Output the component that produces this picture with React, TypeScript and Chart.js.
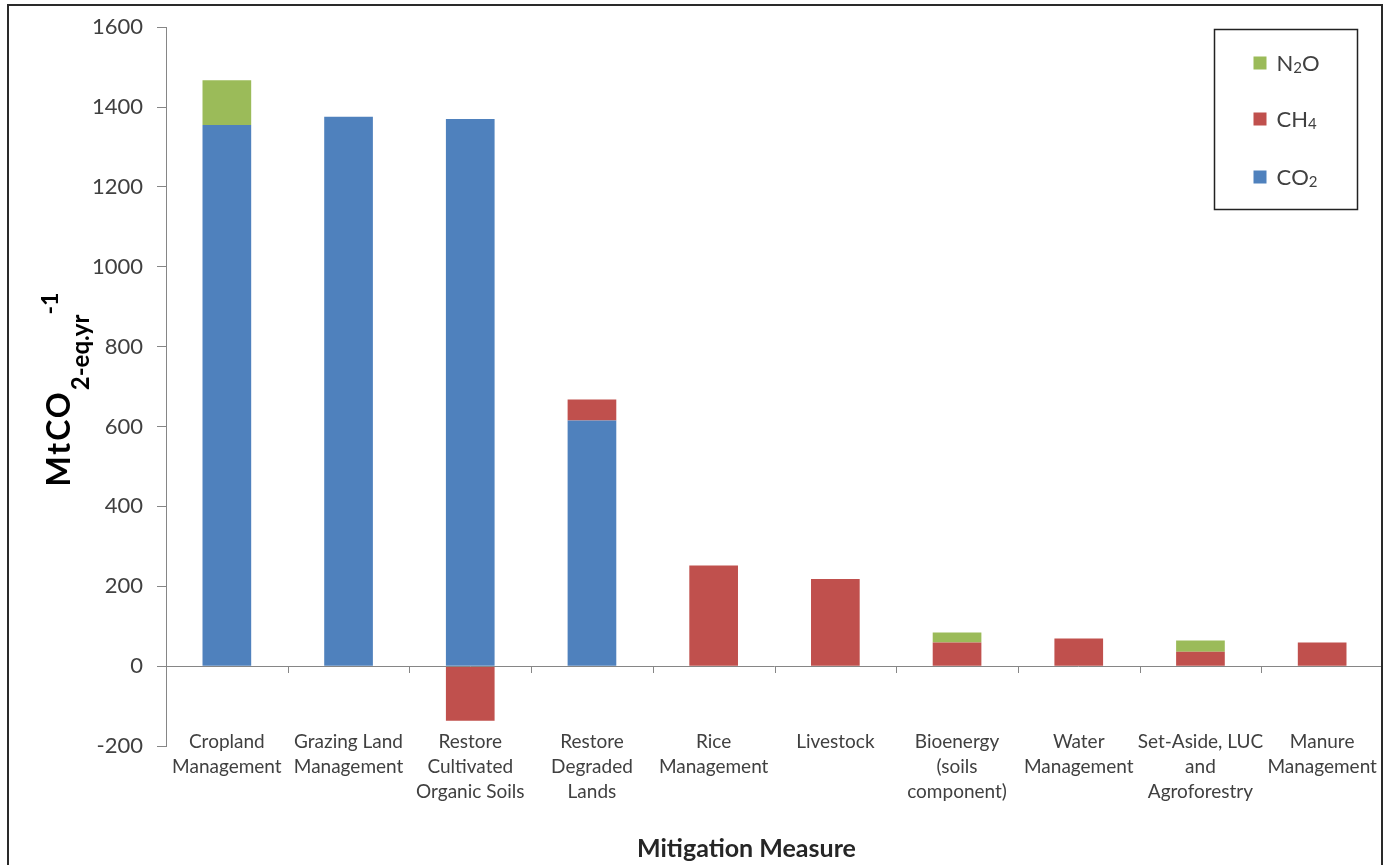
import React, { useEffect, useRef } from "react";
import { Chart, registerables } from "chart.js";

Chart.register(...registerables);

const categories: string[][] = [
  ["Cropland", "Management"],
  ["Grazing Land", "Management"],
  ["Restore", "Cultivated", "Organic Soils"],
  ["Restore", "Degraded", "Lands"],
  ["Rice", "Management"],
  ["Livestock"],
  ["Bioenergy", "(soils", "component)"],
  ["Water", "Management"],
  ["Set-Aside, LUC", "and", "Agroforestry"],
  ["Manure", "Management"],
];

const co2Values = [1355, 1376, 1370, 615, 0, 0, 0, 0, 0, 0];
const ch4Values = [0, 0, -137, 53, 252, 218, 59, 69, 36, 59];
const n2oValues = [112, 0, 0, 0, 0, 0, 25, 0, 28, 0];

const yMin = -200;
const yMax = 1600;
const yStep = 200;

const xTitle = "Mitigation Measure";

const FONT = "Lato, 'Open Sans', sans-serif";
const TEXT = "#404040";
const AXIS = "#868686";

// draw text where digits become subscripts
function drawChemLabel(ctx: CanvasRenderingContext2D, text: string, x: number, y: number, size: number) {
  let cx = x;
  for (const ch of text) {
    const isDigit = /[0-9]/.test(ch);
    ctx.font = `${isDigit ? Math.round(size * 0.7) : size}px ${FONT}`;
    ctx.fillText(ch, cx, isDigit ? y + size * 0.22 : y);
    cx += ctx.measureText(ch).width;
  }
}

const framePlugin = {
  id: "frame",
  beforeDraw(chart: any) {
    const { ctx, width, height } = chart;
    ctx.save();
    ctx.fillStyle = "#ffffff";
    ctx.fillRect(0, 0, width, height);
    ctx.restore();
  },
  afterDraw(chart: any) {
    const { ctx } = chart;
    ctx.save();
    ctx.strokeStyle = "#2a2a2a";
    ctx.lineWidth = 2;
    ctx.strokeRect(8, 5, 1374, 900);
    ctx.restore();
  },
};

const zeroTicksPlugin = {
  id: "zeroTicks",
  afterDatasetsDraw(chart: any) {
    const { ctx, chartArea } = chart;
    const y = Math.round(chart.scales.y.getPixelForValue(0));
    const n = categories.length;
    const w = (chartArea.right - chartArea.left) / n;
    ctx.save();
    ctx.strokeStyle = AXIS;
    ctx.lineWidth = 1;
    ctx.beginPath();
    ctx.moveTo(chartArea.left, y + 0.5);
    ctx.lineTo(chartArea.right, y + 0.5);
    for (let i = 1; i < n; i++) {
      const x = Math.round(chartArea.left + i * w) + 0.5;
      ctx.moveTo(x, y);
      ctx.lineTo(x, y + 7);
    }
    ctx.stroke();
    ctx.restore();
  },
};

const xLabelsPlugin = {
  id: "xLabels",
  afterDraw(chart: any) {
    const { ctx, chartArea } = chart;
    const xs = chart.scales.x;
    ctx.save();
    ctx.font = `19px ${FONT}`;
    ctx.fillStyle = TEXT;
    ctx.textAlign = "center";
    ctx.textBaseline = "middle";
    (chart.data.labels as string[][]).forEach((lines, i) => {
      const x = xs.getPixelForValue(i);
      lines.forEach((line, j) => {
        ctx.fillText(line, x, chartArea.bottom - 4 + j * 25);
      });
    });
    ctx.restore();
  },
};

const titlesPlugin = {
  id: "titles",
  afterDraw(chart: any) {
    const { ctx, chartArea } = chart;
    ctx.save();
    // y title (rotated, with sub/superscripts)
    const cy = (chartArea.top + chartArea.bottom) / 2 + 3;
    const segs = [
      { t: "MtCO", size: 32, base: 70, ls: 2 },
      { t: "2-eq.yr", size: 24, base: 89, ls: 0 },
      { t: "-1", size: 23, base: 58, ls: 0 },
    ];
    let total = 0;
    const widths: number[] = [];
    for (const s of segs) {
      ctx.font = `bold ${s.size}px ${FONT}`;
      (ctx as any).letterSpacing = `${s.ls}px`;
      const w = ctx.measureText(s.t).width;
      widths.push(w);
      total += w;
    }
    ctx.translate(0, cy);
    ctx.rotate(-Math.PI / 2);
    ctx.fillStyle = "#000000";
    ctx.textBaseline = "alphabetic";
    let lx = -total / 2;
    segs.forEach((s, i) => {
      ctx.font = `bold ${s.size}px ${FONT}`;
      (ctx as any).letterSpacing = `${s.ls}px`;
      ctx.fillText(s.t, lx, s.base);
      lx += widths[i];
    });
    ctx.restore();

    // x title
    ctx.save();
    ctx.font = `bold 25px ${FONT}`;
    ctx.fillStyle = "#262626";
    ctx.textAlign = "center";
    ctx.textBaseline = "middle";
    ctx.fillText(xTitle, (chartArea.left + chartArea.right) / 2 - 28, 849);
    ctx.restore();
  },
};

const legendPlugin = {
  id: "customLegend",
  afterDraw(chart: any) {
    const { ctx, chartArea } = chart;
    const boxW = 143;
    const boxH = 180;
    const left = Math.round(chartArea.right - 26 - boxW) + 0.5;
    const top = Math.round(chartArea.top + 2) + 0.5;
    ctx.save();
    ctx.fillStyle = "#ffffff";
    ctx.fillRect(left, top, boxW, boxH);
    ctx.strokeStyle = "#222222";
    ctx.lineWidth = 1.5;
    ctx.strokeRect(left, top, boxW, boxH);
    const items = [...chart.data.datasets].reverse();
    const rows = [33, 89, 147];
    items.forEach((ds: any, i: number) => {
      const cy = top + rows[i];
      ctx.fillStyle = ds.backgroundColor;
      ctx.fillRect(left + 39, cy - 6, 13, 13);
      ctx.fillStyle = TEXT;
      ctx.textBaseline = "middle";
      drawChemLabel(ctx, ds.label, left + 62, cy + 1, 22);
    });
    ctx.restore();
  },
};

export default function App() {
  const canvasRef = useRef<HTMLCanvasElement | null>(null);

  useEffect(() => {
    if (!canvasRef.current) return;
    const chart = new Chart(canvasRef.current, {
      type: "bar",
      data: {
        labels: categories,
        datasets: [
          { label: "CO2", data: co2Values, backgroundColor: "#4F81BD" },
          { label: "CH4", data: ch4Values, backgroundColor: "#C0504D" },
          { label: "N2O", data: n2oValues, backgroundColor: "#9BBB59" },
        ],
      },
      options: {
        responsive: false,
        animation: false,
        devicePixelRatio: 1,
        layout: { padding: { top: 26, right: 7, left: 0, bottom: 0 } },
        datasets: {
          bar: { barPercentage: 0.4, categoryPercentage: 1.0 },
        },
        plugins: {
          legend: { display: false },
          tooltip: { enabled: false },
          title: { display: false },
        },
        scales: {
          x: {
            stacked: true,
            grid: { display: false },
            border: { display: false },
            ticks: { display: false },
            afterFit(scale: any) {
              scale.height = 119;
            },
          },
          y: {
            stacked: true,
            min: yMin,
            max: yMax,
            ticks: {
              stepSize: yStep,
              padding: 14,
              color: TEXT,
              font: { family: FONT, size: 22 },
              callback: (v: any) => String(v),
            },
            grid: {
              drawOnChartArea: false,
              drawTicks: true,
              tickLength: 9,
              tickColor: AXIS,
            },
            border: { display: true, color: AXIS, width: 1 },
            afterFit(scale: any) {
              scale.width = 166;
            },
          },
        },
      },
      plugins: [framePlugin, zeroTicksPlugin, xLabelsPlugin, titlesPlugin, legendPlugin],
    });
    return () => chart.destroy();
  }, []);

  return (
    <div style={{ position: "fixed", left: 0, top: 0, width: 1390, height: 865, background: "#fff", overflow: "hidden" }}>
      <canvas ref={canvasRef} width={1390} height={865} style={{ width: 1390, height: 865, display: "block" }} />
    </div>
  );
}
